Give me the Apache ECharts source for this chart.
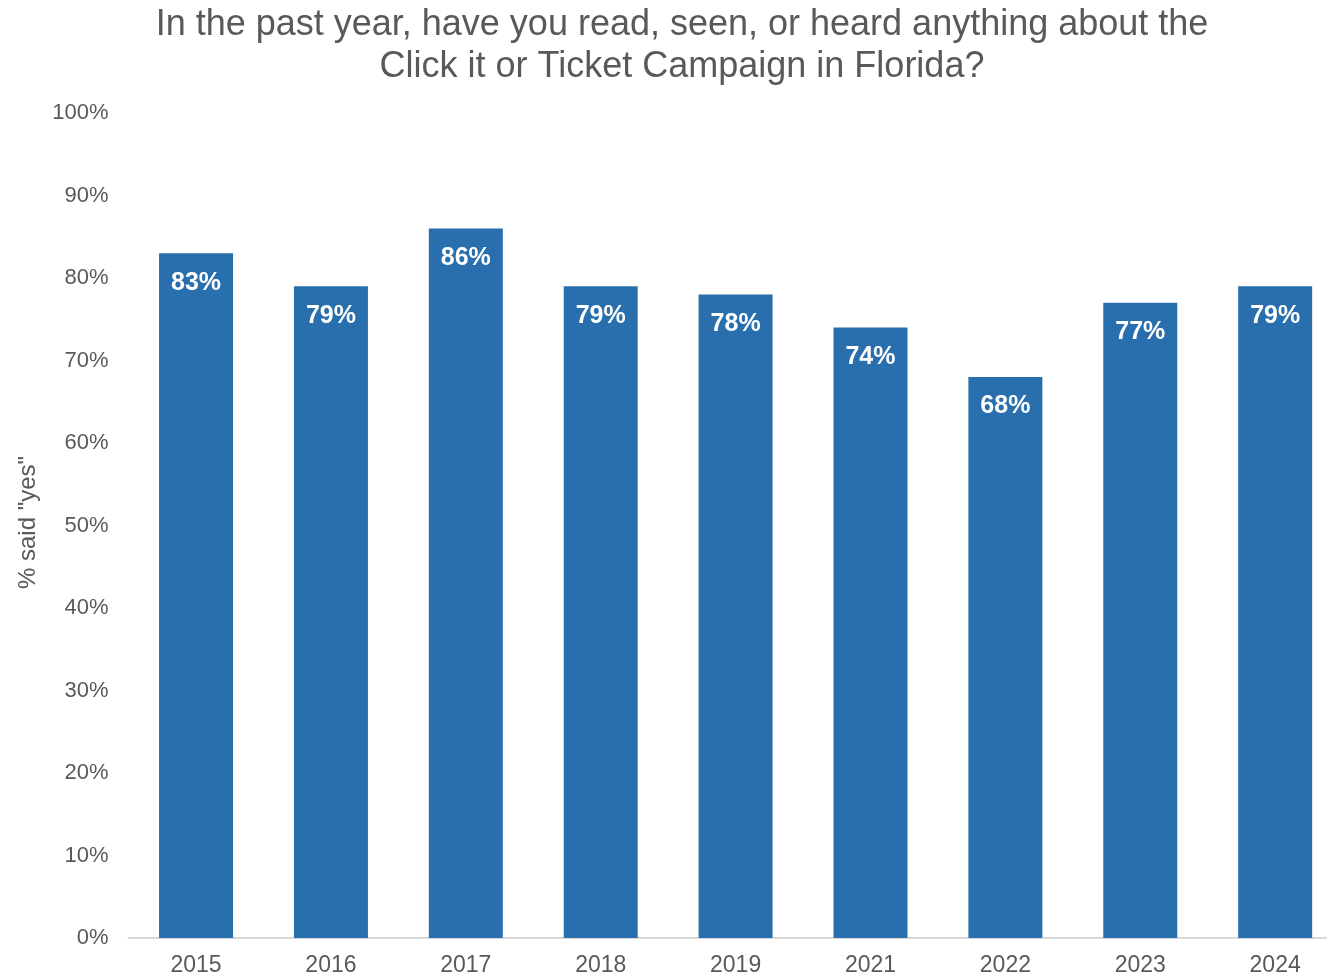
<!DOCTYPE html>
<html>
<head>
<meta charset="utf-8">
<script src="https://cdn.jsdelivr.net/npm/echarts@6/dist/echarts.min.js"></script>
<style>html,body{margin:0;padding:0;background:#fff;}#c{width:1327px;height:975px;}</style>
</head>
<body>
<div id="c"></div>
<script>
const categories = ['2015','2016','2017','2018','2019','2021','2022','2023','2024'];
const values = [83, 79, 86, 79, 78, 74, 68, 77, 79];
const yTicks = [0,10,20,30,40,50,60,70,80,90,100];

const chart = echarts.init(document.getElementById('c'));
chart.setOption({
  backgroundColor: '#fff',
  animation: false,
  title: {
    text: 'In the past year, have you read, seen, or heard anything about the\nClick it or Ticket Campaign in Florida?',
    left: 677, top: -1, textAlign: 'center',
    textStyle: { fontFamily: 'Liberation Sans, Arial, sans-serif', fontSize: 36, fontWeight: 'normal', color: '#595959', lineHeight: 42 }
  },
  grid: { left: 128.6, width: 1214, top: 113, bottom: 37, containLabel: false, outerBoundsMode: 'none' },
  xAxis: {
    type: 'category', data: categories,
    axisLine: { lineStyle: { color: '#d9d9d9', width: 2 } },
    axisTick: { show: false },
    axisLabel: { color: '#595959', fontSize: 23, fontFamily: 'Liberation Sans, Arial, sans-serif', margin: 16 }
  },
  yAxis: {
    type: 'value', min: 0, max: 100, interval: 10,
    name: '% said "yes"', nameLocation: 'middle', nameGap: 88, nameRotate: 90,
    nameTextStyle: { color: '#595959', fontSize: 24, fontFamily: 'Liberation Sans, Arial, sans-serif', padding: [0, 0, 0, 6] },
    splitLine: { show: false },
    axisLine: { show: false }, axisTick: { show: false },
    axisLabel: { color: '#595959', fontSize: 22, fontFamily: 'Liberation Sans, Arial, sans-serif', margin: 20, padding: [4, 0, 0, 0],
      formatter: v => yTicks.includes(v) ? v + '%' : '' }
  },
  series: [{
    type: 'bar', data: values, barWidth: 74,
    itemStyle: { color: '#2a6fad' },
    label: { show: true, position: 'insideTop', distance: 17, formatter: '{c}%', color: '#fff', fontSize: 25, fontWeight: 'bold', fontFamily: 'Liberation Sans, Arial, sans-serif' }
  }]
});
</script>
</body>
</html>
